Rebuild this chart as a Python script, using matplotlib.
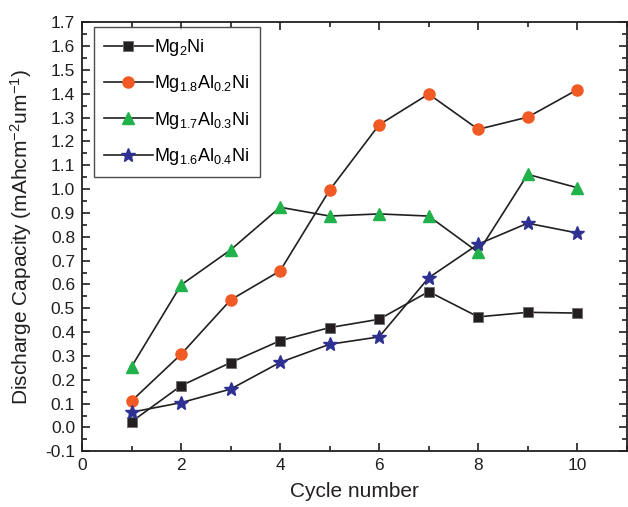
import matplotlib.pyplot as plt
from matplotlib.ticker import MultipleLocator

plt.rcParams['font.family'] = 'Liberation Sans'
plt.rcParams['mathtext.fontset'] = 'custom'
plt.rcParams['mathtext.rm'] = 'Liberation Sans'
plt.rcParams['mathtext.it'] = 'Liberation Sans:italic'

# Discharge capacity per cycle for each alloy
cycles = [1, 2, 3, 4, 5, 6, 7, 8, 9, 10]
mg2ni = [0.024, 0.175, 0.272, 0.364, 0.419, 0.454, 0.57, 0.464, 0.483, 0.48]
mg18al02 = [0.111, 0.307, 0.535, 0.657, 0.996, 1.27, 1.399, 1.251, 1.302, 1.417]
mg17al03 = [0.255, 0.598, 0.745, 0.924, 0.887, 0.896, 0.887, 0.735, 1.062, 1.006]
mg16al04 = [0.064, 0.104, 0.161, 0.273, 0.349, 0.38, 0.628, 0.769, 0.857, 0.816]

labels = [r'$\mathrm{Mg_2Ni}$',
          r'$\mathrm{Mg_{1.8}Al_{0.2}Ni}$',
          r'$\mathrm{Mg_{1.7}Al_{0.3}Ni}$',
          r'$\mathrm{Mg_{1.6}Al_{0.4}Ni}$']

fig = plt.figure(figsize=(6.28, 5.07), dpi=100)
ax = fig.add_axes([0.1306, 0.1099, 0.8674, 0.8461])

ax.plot(cycles, mg2ni, color='#231f20', lw=1.2, marker='s', ms=7.5,
        mfc='#231f20', mec='#6d6d6d', mew=0.6, label=labels[0])
ax.plot(cycles, mg18al02, color='#231f20', lw=1.2, marker='o', ms=8,
        mfc='#f15a24', mec='#f15a24', label=labels[1])
ax.plot(cycles, mg17al03, color='#231f20', lw=1.2, marker='^', ms=9,
        mfc='#22b24c', mec='#22b24c', label=labels[2])
ax.plot(cycles, mg16al04, color='#231f20', lw=1.2, marker='*', ms=10.5,
        mfc='#2e3192', mec='#2e3192', label=labels[3])

ax.set_xlim(0, 11)
ax.set_ylim(-0.1, 1.7)
ax.xaxis.set_major_locator(MultipleLocator(2))
ax.xaxis.set_minor_locator(MultipleLocator(1))
ax.yaxis.set_major_locator(MultipleLocator(0.1))
ax.yaxis.set_minor_locator(MultipleLocator(0.05))
ax.yaxis.set_major_formatter(plt.FormatStrFormatter('%.1f'))
ax.tick_params(which='both', direction='in', top=True, right=True,
               width=1.2, labelsize=12.5, colors='#231f20')
ax.tick_params(which='major', length=6, pad=5)
ax.tick_params(which='minor', length=3.5)
for s in ax.spines.values():
    s.set_linewidth(1.3)
    s.set_color('#231f20')

ax.set_xlabel('Cycle number', fontsize=15, color='#231f20', labelpad=6)
ax.set_ylabel(r'Discharge Capacity (mAhcm$^{\mathrm{-2}}$um$^{\mathrm{-1}}$)',
              fontsize=15, color='#231f20', labelpad=8)

leg = ax.legend(loc='upper left', bbox_to_anchor=(0.022, 0.989), borderaxespad=0,
                fontsize=13, frameon=True, fancybox=False, edgecolor='#231f20',
                handlelength=2.7, handletextpad=0.1, labelspacing=0.85,
                borderpad=0.55)
leg.get_frame().set_linewidth(1.0)

fig.savefig('out.png', dpi=100)
